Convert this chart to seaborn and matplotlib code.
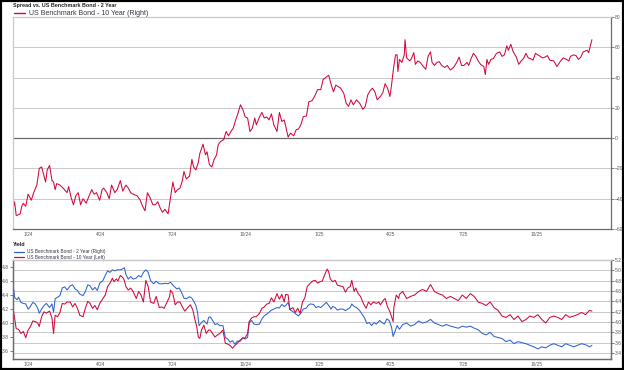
import pandas as pd
import numpy as np
import matplotlib.pyplot as plt
from matplotlib.lines import Line2D
from matplotlib.patches import Rectangle
import seaborn as sns

# readings are stored as days after the first observation
START = pd.Timestamp("2023-12-13")

spread_days = [0, 2, 4, 5, 9, 11, 13, 16, 19, 23, 26, 30, 33, 36, 38, 41, 43, 46, 49, 51,
               53, 55, 59, 63, 68, 70, 73, 76, 79, 82, 85, 88, 92, 95, 99, 102, 105, 109, 112, 114,
               118, 121, 124, 128, 131, 135, 138, 142, 145, 148, 151, 156, 160, 163, 166, 169, 172, 176, 179, 182,
               185, 188, 191, 195, 197, 201, 204, 207, 210, 213, 215, 218, 222, 225, 227, 230, 233, 235, 239, 242,
               244, 247,
               250, 253, 256, 258, 261, 265, 268, 271, 274, 277, 280, 283, 286, 289, 292, 295, 298, 301,
               304, 306, 310, 313, 316, 319, 322, 325, 328, 332, 335, 338, 341, 343, 346, 349, 353, 356, 359, 362,
               365, 369, 372, 376, 380, 383, 387, 390, 394, 397, 400, 403, 406, 409, 412, 416, 419, 422, 425, 428,
               432, 436, 440, 443, 446, 449, 452, 455, 458, 462, 465, 468, 471,
               474, 476, 478, 481, 483, 484, 486, 489, 492, 493, 495, 499, 501, 504, 506, 509, 512, 516, 519, 522,
               525, 527, 530, 533, 536, 539, 543, 546, 550, 554, 558, 561, 564, 567, 571, 573, 576, 579, 582, 585,
               588, 592, 594, 596, 598, 601, 604, 608, 612, 615, 618, 621, 623, 626, 629, 633, 636, 639, 642, 645,
               648, 651, 654, 657, 660, 663, 666, 669, 672, 675, 680, 684, 688, 692, 696, 699, 701, 705, 708, 711,
               714, 717, 722, 724, 726, 728]
spread_bp = [-47, -42, -51, -51, -50, -45, -43, -45, -37, -41, -36, -31, -20, -19, -23, -29, -21, -18, -28, -29,
             -34, -30, -31, -33, -36, -32, -39, -44, -38, -36, -44, -40, -43, -39, -34, -37, -36, -41, -34, -33,
             -36, -40, -31, -36, -34, -28, -35, -31, -33, -36, -37, -38, -41, -45, -48, -36, -39, -44, -44, -42,
             -46, -49, -47, -50, -43, -29, -36, -34, -33, -28, -22, -27, -25, -14, -19, -21, -16, -10, -4, -11,
             -9, -17.5,
             -19, -14, -11, -4.4, -2.2, -1, 4.4, 1.5, 4.4, 6.6, 12, 16.5, 22, 19, 14, 13.3, 4.4, 6.6,
             13.3, 8.8, 14, 17, 13.3, 14, 12, 16, 8.8, 4.4, 17, 11, 12, 7.7, 0.7, 3.3, 1.5, 5.5, 6, 8.8,
             14.2, 14.6, 24, 24.7, 28.4, 32, 32, 38.7, 40.4, 41.5, 35.6, 30.6, 35, 34, 33, 29.5, 23, 21, 25.3, 22,
             25.3, 23, 19, 21, 28.4, 31.3, 33, 30.6, 25.3, 27.5, 30, 36, 33,
             27.5, 35, 44, 55, 55, 44, 52, 50, 55, 65, 53, 51, 52.5, 56.5, 48.7, 51, 50, 47.3, 45.5, 54,
             57, 50, 48, 50, 50.5, 48, 46.7, 48, 45, 46.7, 50, 53.5, 48, 48, 50, 48, 52.5, 56, 54, 51,
             48.7, 47.3, 42, 52, 48.7, 52, 52.5, 56, 57, 54, 55, 61, 58, 62, 57, 53.5, 48.7, 51, 52.5, 56,
             53, 52.5, 51.5, 56, 55, 54, 53, 53.5, 54.5, 51.5, 51, 47.3, 50.5, 53, 52, 51, 54, 55, 54.5, 52,
             53.5, 57, 58, 56.5, 61, 65]

y2_days = [0, 2, 5, 7, 10, 13, 16, 19, 21, 25, 28, 31, 33, 36, 39, 42, 46, 49, 51, 53,
           56, 59, 62, 65, 68, 72, 75, 78, 81, 84, 88, 91, 94, 97, 100, 103, 106, 109, 113, 116,
           119, 122, 125, 128, 131, 135, 138, 140, 142, 145, 148, 151, 155, 158, 161, 164, 167, 170, 173, 177,
           180, 184, 188, 192, 195, 198, 202, 206, 209, 212, 215, 218, 222, 225, 228, 230, 232, 234, 237, 240,
           244, 246,
           248, 251, 254, 257, 260, 264, 267, 270, 273, 276, 279, 282, 286, 289, 292, 295, 297, 300, 303, 306,
           310, 313, 316, 319, 322, 325, 328, 332, 335, 338, 341, 343, 346, 349, 353, 356, 359, 362, 365, 369,
           371, 374, 378, 381, 384, 387, 390, 394, 397, 400, 402, 405, 408, 411, 415, 418, 421, 424, 426, 429,
           432, 436, 439, 442, 445, 448, 451, 454, 457, 461, 464, 467, 470, 473, 476, 478, 480, 483, 486,
           490, 495, 500, 505, 510, 515, 520, 525, 530, 535, 540, 545, 550, 555, 560, 565, 570, 575, 580, 585,
           590, 595, 600, 605, 610, 615, 620, 625, 630, 635, 640, 645, 650, 655, 660, 665, 670, 675, 680, 685,
           690, 695, 700, 705, 710, 715, 720, 725, 728]
y2_yield = [4.74, 4.48, 4.43, 4.48, 4.38, 4.36, 4.35, 4.25, 4.28, 4.38, 4.35, 4.27, 4.17, 4.25, 4.32, 4.36, 4.28, 4.35, 4.19, 4.45,
            4.48, 4.51, 4.66, 4.68, 4.62, 4.70, 4.72, 4.64, 4.61, 4.54, 4.51, 4.59, 4.72, 4.70, 4.62, 4.67, 4.61, 4.75, 4.80, 4.90,
            4.99, 4.96, 5.01, 4.99, 5.01, 5.01, 5.03, 5.05, 4.92, 4.83, 4.88, 4.83, 4.85, 4.90, 4.87, 4.96, 5.01, 4.96, 4.80, 4.74,
            4.79, 4.74, 4.74, 4.75, 4.74, 4.77, 4.70, 4.64, 4.66, 4.57, 4.46, 4.45, 4.49, 4.46, 4.38, 4.32, 4.19, 3.93, 3.99, 4.03,
            3.96, 4.09,
            4.10, 4.03, 3.95, 3.97, 3.93, 3.93, 3.70, 3.67, 3.61, 3.64, 3.57, 3.63, 3.63, 3.70, 3.67, 3.70, 3.99, 4.03, 3.96, 3.95,
            3.96, 4.06, 4.12, 4.15, 4.19, 4.23, 4.25, 4.28, 4.27, 4.34, 4.30, 4.32, 4.38, 4.23, 4.19, 4.15, 4.12, 4.17, 4.25, 4.27,
            4.32, 4.35, 4.34, 4.28, 4.30, 4.28, 4.32, 4.38, 4.32, 4.25, 4.30, 4.28, 4.23, 4.25, 4.25, 4.22, 4.25, 4.28, 4.35, 4.30,
            4.28, 4.22, 4.15, 4.08, 3.97, 3.99, 3.93, 3.99, 3.96, 4.03, 3.99, 3.96, 4.06, 4.03, 3.90, 3.72, 3.80, 3.93, 3.86,
            3.95, 3.98, 3.92, 3.95, 4.02, 3.98, 4.00, 4.05, 3.98, 3.95, 3.92, 3.95, 3.92, 3.90, 3.88, 3.92, 3.90, 3.92, 3.88, 3.85,
            3.78, 3.75, 3.80, 3.72, 3.70, 3.68, 3.62, 3.65, 3.58, 3.62, 3.60, 3.58, 3.55, 3.52, 3.48, 3.52, 3.50, 3.55, 3.58, 3.55,
            3.52, 3.58, 3.55, 3.52, 3.55, 3.58, 3.56, 3.52, 3.55]

y10_days = [0, 2, 4, 7, 10, 13, 16, 19, 22, 25, 28, 31, 33, 36, 39, 42, 46, 49, 51, 53,
            56, 59, 62, 65, 68, 72, 75, 78, 81, 84, 88, 91, 94, 97, 100, 103, 106, 109, 113, 116,
            119, 122, 125, 127, 130, 132, 135, 138, 140, 142, 145, 148, 151, 155, 158, 161, 164, 167, 170, 173,
            177, 180, 184, 187, 190, 193, 197, 198, 201, 204, 207, 210, 213, 216, 219, 223, 226, 229, 231, 233,
            235, 237, 240, 243, 246,
            248, 251, 254, 257, 260, 264, 267, 270, 273, 276, 279, 282, 286, 289, 292, 295, 297, 300, 303, 306,
            310, 313, 316, 319, 322, 325, 328, 332, 335, 338, 341, 343, 346, 348, 352, 355, 358, 361, 364, 367,
            370, 374, 377, 380, 383, 386, 389, 392, 395, 397, 399, 402, 405, 408, 411, 415, 418, 421, 424, 426,
            429, 431, 434, 437, 441, 444, 447, 450, 453, 457, 460, 462, 466, 468, 471, 474, 478, 479, 482, 485,
            486,
            490, 495, 500, 505, 510, 515, 520, 525, 530, 535, 540, 545, 550, 555, 560, 565, 570, 575, 580, 585,
            590, 595, 600, 605, 610, 615, 620, 625, 630, 635, 640, 645, 650, 655, 660, 665, 670, 675, 680, 685,
            690, 695, 700, 705, 710, 715, 720, 725, 728]
y10_yield = [4.21, 4.07, 3.92, 3.91, 3.85, 3.88, 3.79, 3.90, 3.95, 4.03, 4.02, 4.00, 3.95, 4.09, 4.16, 4.14, 4.17, 4.07, 3.85, 4.11,
             4.09, 4.15, 4.28, 4.27, 4.30, 4.30, 4.23, 4.28, 4.21, 4.11, 4.09, 4.21, 4.31, 4.28, 4.21, 4.25, 4.19, 4.28, 4.35, 4.40,
             4.52, 4.57, 4.64, 4.59, 4.63, 4.60, 4.68, 4.65, 4.61, 4.52, 4.47, 4.50, 4.45, 4.35, 4.45, 4.40, 4.30, 4.61, 4.52, 4.30,
             4.28, 4.38, 4.22, 4.23, 4.21, 4.28, 4.38, 4.47, 4.42, 4.26, 4.30, 4.30, 4.23, 4.17, 4.21, 4.26, 4.19, 4.04, 3.95, 3.80,
             3.78, 3.90, 3.97, 3.85, 3.90,
             3.90, 3.85, 3.80, 3.83, 3.85, 3.90, 3.71, 3.70, 3.68, 3.64, 3.68, 3.71, 3.76, 3.78, 3.79, 3.85, 4.02, 4.07, 4.09, 4.09,
             4.14, 4.21, 4.23, 4.27, 4.28, 4.36, 4.30, 4.42, 4.34, 4.41, 4.30, 4.41, 4.40, 4.19, 4.22, 4.15, 4.21, 4.14, 4.30, 4.36,
             4.52, 4.57, 4.60, 4.61, 4.57, 4.59, 4.60, 4.69, 4.77, 4.73, 4.63, 4.59, 4.61, 4.54, 4.53, 4.52, 4.44, 4.50, 4.52, 4.61,
             4.45, 4.50, 4.42, 4.38, 4.27, 4.21, 4.30, 4.26, 4.30, 4.28, 4.30, 4.26, 4.33, 4.35, 4.23, 4.16, 4.02, 4.23, 4.40, 4.35,
             4.41,
             4.45, 4.35, 4.38, 4.40, 4.45, 4.48, 4.45, 4.55, 4.45, 4.42, 4.40, 4.35, 4.38, 4.35, 4.32, 4.40, 4.35, 4.42, 4.38, 4.30,
             4.28, 4.25, 4.30, 4.22, 4.18, 4.10, 4.08, 4.12, 4.05, 4.10, 4.02, 4.05, 4.10, 4.08, 4.12, 4.05, 4.00, 4.08, 4.10, 4.08,
             4.05, 4.12, 4.08, 4.10, 4.12, 4.15, 4.12, 4.18, 4.17]

tick_dates = ["2024-01-01", "2024-04-01", "2024-07-01", "2024-10-01",
              "2025-01-01", "2025-04-01", "2025-07-01", "2025-10-01"]
tick_labels = ["1/24", "4/24", "7/24", "10/24", "1/25", "4/25", "7/25", "10/25"]
spread_ticks = [-60, -40, -20, 0, 20, 40, 60, 80]
left_ticks = [3.6, 3.8, 4.0, 4.2, 4.4, 4.6, 4.8]
right_ticks = [3.4, 3.6, 3.8, 4.0, 4.2, 4.4, 4.6, 4.8, 5.0, 5.2]

RED = "#d0083c"
BLUE = "#2f62cf"
GRID = "#c9c9c9"
AXIS = "#6a6a6a"
TXT = "#555566"


def to_frame(days, values):
    return pd.DataFrame({"date": START + pd.to_timedelta(days, unit="D"), "value": values})


sns.set_theme(style="white")
plt.rcParams["font.family"] = ["Liberation Sans", "DejaVu Sans"]

W, H = 624, 370
fig = plt.figure(figsize=(W / 100, H / 100), dpi=100)


def box(left, top, right, bottom):
    return [left / W, 1 - bottom / H, (right - left) / W, (bottom - top) / H]


xlim = (pd.Timestamp("2023-12-13"), pd.Timestamp("2026-01-03"))
xticks = pd.to_datetime(tick_dates)


def style_x(ax):
    ax.set_xlim(xlim)
    ax.set_xticks(xticks)
    ax.set_xticklabels(tick_labels)
    ax.tick_params(axis="x", length=0, labelsize=3.4, labelcolor=TXT, pad=2)
    ax.set_xlabel("")


# ---- top panel: spread ----
ax1 = fig.add_axes(box(13, 17, 611, 229))
sns.lineplot(data=to_frame(spread_days, spread_bp), x="date", y="value", ax=ax1,
             color=RED, linewidth=0.75, estimator=None)
ax1.set_ylim(-60, 80)
ax1.set_yticks(spread_ticks)
ax1.yaxis.tick_right()
ax1.tick_params(axis="y", length=2, width=0.6, color=AXIS, labelsize=3.6, labelcolor=TXT, pad=1)
ax1.grid(axis="y", color=GRID, linewidth=0.7)
ax1.axhline(0, color=AXIS, linewidth=0.9, zorder=1)
ax1.set_ylabel("")
style_x(ax1)
for side, col in [("left", GRID), ("top", GRID), ("right", AXIS), ("bottom", AXIS)]:
    ax1.spines[side].set_color(col)
    ax1.spines[side].set_linewidth(0.9)

ax1.legend(handles=[Line2D([], [], color=RED, lw=1)],
           labels=["US Benchmark Bond - 10 Year (Right)"],
           loc="center left", bbox_to_anchor=(14 / W, 1 - 13.5 / H), bbox_transform=fig.transFigure,
           frameon=False, fontsize=5, handlelength=1.6, handletextpad=0.6,
           borderpad=0, borderaxespad=0, labelcolor="#333344")
fig.text(13 / W, 1 - 5 / H, "Spread vs. US Benchmark Bond - 2 Year", fontsize=3.9,
         fontweight="bold", color="#222222", va="center", ha="left")

# ---- bottom panel: yields ----
ax2 = fig.add_axes(box(13, 260, 611, 359))
ax3 = ax2.twinx()
sns.lineplot(data=to_frame(y2_days, y2_yield), x="date", y="value", ax=ax3,
             color=BLUE, linewidth=0.75, estimator=None)
sns.lineplot(data=to_frame(y10_days, y10_yield), x="date", y="value", ax=ax2,
             color=RED, linewidth=0.75, estimator=None)
ax2.set_zorder(ax3.get_zorder() + 1)
ax2.patch.set_visible(False)

ax2.set_ylim(3.486, 4.9)
ax2.set_yticks(left_ticks)
ax2.set_yticklabels([f"{v:.1f}" for v in left_ticks])
ax2.tick_params(axis="y", length=2, width=0.6, color=AXIS, labelsize=3.6, labelcolor=TXT, pad=1)
ax3.set_ylim(3.284, 5.2)
ax3.set_yticks(right_ticks)
ax3.set_yticklabels([f"{v:.1f}" for v in right_ticks])
ax3.tick_params(axis="y", length=2, width=0.6, color=AXIS, labelsize=3.6, labelcolor=TXT, pad=1)
ax3.grid(axis="y", color=GRID, linewidth=0.7)
ax2.set_ylabel("")
ax3.set_ylabel("")
style_x(ax2)
ax3.set_xlim(xlim)
for a in (ax2, ax3):
    for side, col in [("left", AXIS), ("top", GRID), ("right", AXIS), ("bottom", AXIS)]:
        a.spines[side].set_color(col)
        a.spines[side].set_linewidth(0.9)

ax2.legend(handles=[Line2D([], [], color=BLUE, lw=0.9), Line2D([], [], color=RED, lw=0.9)],
           labels=["US Benchmark Bond - 2 Year (Right)", "US Benchmark Bond - 10 Year (Left)"],
           loc="upper left", bbox_to_anchor=(14 / W, 1 - 249.5 / H), bbox_transform=fig.transFigure,
           frameon=False, fontsize=3.4, handlelength=2.2, handletextpad=0.6, labelspacing=0.1,
           borderpad=0, borderaxespad=0, labelcolor="#333344")
fig.text(13 / W, 1 - 244 / H, "Yield", fontsize=3.9, fontweight="bold",
         color="#222222", va="center", ha="left")

fig.add_artist(Rectangle((0, 0), 1, 1, transform=fig.transFigure, fill=False,
                         edgecolor="black", linewidth=3))

fig.savefig("out.png", dpi=100)
